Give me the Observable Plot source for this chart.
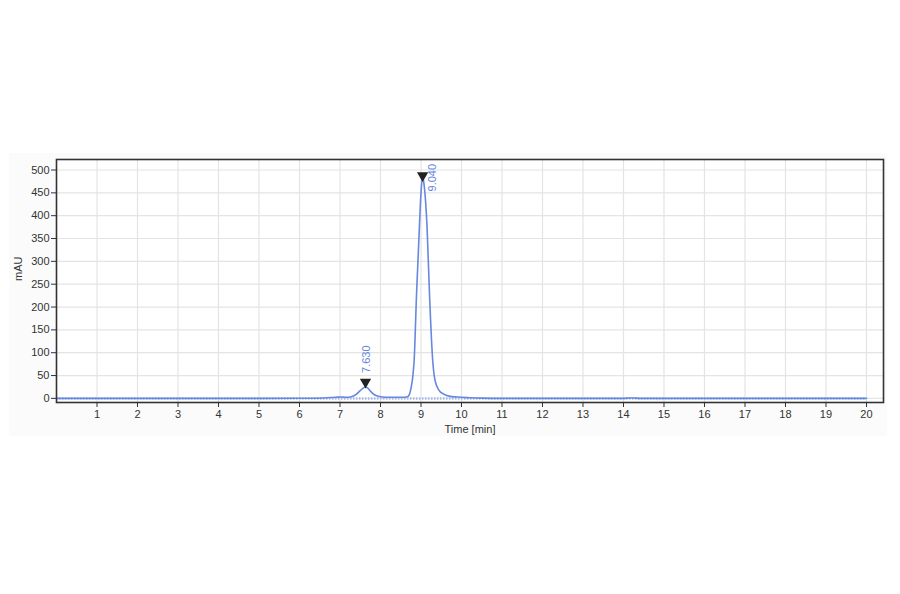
<!DOCTYPE html>
<html>
<head>
<meta charset="utf-8">
<script src="https://cdn.jsdelivr.net/npm/d3@7"></script>
<script src="https://cdn.jsdelivr.net/npm/@observablehq/plot@0.6"></script>
<style>
  html, body { margin: 0; padding: 0; background: #ffffff; }
  #chart { width: 900px; height: 594px; }
  svg { font-family: "Liberation Sans", Arial, sans-serif; }
</style>
</head>
<body>
<div id="chart"></div>
<script>
// Retention time (min) and absorbance (mAU)
const times = [0, 1, 2, 3, 4, 5, 6, 6.6, 6.9, 7.05, 7.12, 7.2, 7.3, 7.4, 7.5, 7.58, 7.63, 7.68, 7.75, 7.85, 7.95, 8.05, 8.2, 8.4, 8.6, 8.68, 8.72, 8.76, 8.8, 8.83, 8.89, 8.96, 9.0, 9.04, 9.08, 9.15, 9.21, 9.29, 9.35, 9.45, 9.55, 9.69, 9.9, 10.2, 10.5, 11, 12, 13, 14, 14.15, 14.25, 14.4, 15, 16, 17, 18, 19, 20];
const mAU   = [0, 0, 0, 0, 0, 0, 0.3, 1, 2.5, 3, 2.5, 2.5, 4, 9, 17, 23, 25, 23, 16, 8, 4.5, 3, 2.5, 2.5, 2.5, 4, 10, 25, 50, 82, 228, 374, 450, 485, 465, 374, 228, 82, 38, 17, 10, 5, 3, 1.5, 0.5, 0, 0, 0, 0, 1, 1, 0, 0, 0, 0, 0, 0, 0];

// Peak annotations
const peakTimes  = [7.630, 9.040];
const peakMarkY  = [36, 488];
const peakLabels = ["7.630", "9.040"];

const xTicks = [1, 2, 3, 4, 5, 6, 7, 8, 9, 10, 11, 12, 13, 14, 15, 16, 17, 18, 19, 20];
const yTicks = [0, 50, 100, 150, 200, 250, 300, 350, 400, 450, 500];

const signal = times.map((t, i) => ({t, v: mAU[i]}));
const peaks = peakTimes.map((t, i) => ({t, y: peakMarkY[i], label: peakLabels[i]}));

const lineColor = "#6688dd";
const textColor = "#333333";

const chart = Plot.plot({
  width: 900,
  height: 594,
  marginLeft: 56,
  marginRight: 17,
  marginTop: 159,
  marginBottom: 192,
  style: {fontFamily: "Liberation Sans, Arial, sans-serif", fontSize: "11px", color: textColor, background: "transparent"},
  x: {domain: [0, 20.42], label: null},
  y: {domain: [-9, 523], label: null},
  marks: [
    Plot.frame({fill: "#ffffff", stroke: "none"}),
    Plot.gridX(xTicks, {stroke: "#e4e4e4", strokeOpacity: 1, strokeWidth: 1.2}),
    Plot.gridY(yTicks, {stroke: "#e4e4e4", strokeOpacity: 1, strokeWidth: 1.2}),
    Plot.ruleY([0], {x1: 0, x2: 20, stroke: "#a8bcf0", strokeWidth: 2.5, strokeDasharray: "1.5,1.5"}),
    Plot.line(signal, {x: "t", y: "v", stroke: lineColor, strokeWidth: 1.6, curve: "monotone-x"}),
    Plot.dot(peaks, {x: "t", y: "y", symbol: "triangle", rotate: 180, r: 4.2, fill: "#222222", stroke: "none"}),
    Plot.text(peaks.filter(d => d.label === "7.630"), {x: "t", y: "y", text: "label", rotate: -90, textAnchor: "start", lineAnchor: "middle", dy: -9, dx: 1, fill: lineColor, fontSize: 11}),
    Plot.text(peaks.filter(d => d.label === "9.040"), {x: "t", y: "y", text: "label", rotate: -90, textAnchor: "start", lineAnchor: "middle", dy: 16, dx: 10, fill: lineColor, fontSize: 11}),
    Plot.axisX(xTicks, {tickSize: 5, tickPadding: 3, stroke: textColor, fill: textColor, label: null, fontSize: 11}),
    Plot.axisY(yTicks, {tickSize: 5, tickPadding: 2, stroke: textColor, fill: textColor, label: null, fontSize: 11}),
    Plot.text(["Time [min]"], {frameAnchor: "bottom", dy: 27, lineAnchor: "middle", fill: textColor, fontSize: 11}),
    Plot.text(["mAU"], {frameAnchor: "left", dx: -38, rotate: -90, lineAnchor: "middle", fill: textColor, fontSize: 11}),
    Plot.frame({stroke: "#333333", strokeWidth: 1.6})
  ]
});

// faint panel background behind the chart
const ns = "http://www.w3.org/2000/svg";
const bg = document.createElementNS(ns, "rect");
bg.setAttribute("x", 9); bg.setAttribute("y", 153);
bg.setAttribute("width", 878); bg.setAttribute("height", 283);
bg.setAttribute("fill", "#fbfbfb");
chart.insertBefore(bg, chart.firstChild.nextSibling);
document.getElementById("chart").appendChild(chart);
</script>
</body>
</html>
